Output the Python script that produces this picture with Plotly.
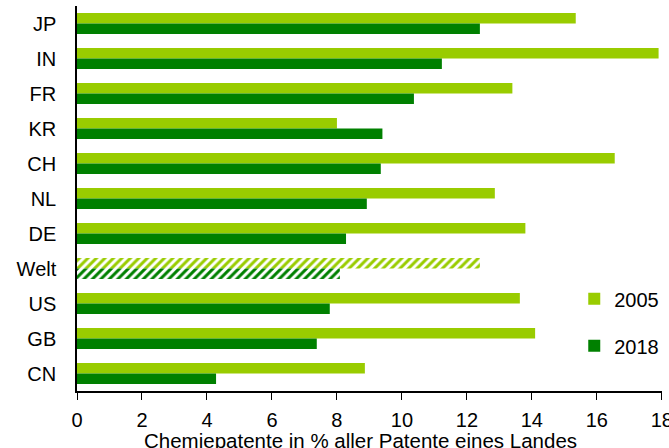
import plotly.graph_objects as go

countries = ["JP", "IN", "FR", "KR", "CH", "NL", "DE", "Welt", "US", "GB", "CN"]
v2005 = [15.35, 17.9, 13.4, 8.0, 16.55, 12.86, 13.8, 12.4, 13.63, 14.1, 8.86]
v2018 = [12.4, 11.23, 10.37, 9.4, 9.35, 8.92, 8.28, 8.09, 7.78, 7.38, 4.28]
xticks = [0, 2, 4, 6, 8, 10, 12, 14, 16, 18]

LIGHT = "#99CC00"
DARK = "#008000"

shapes = ["/" if c == "Welt" else "" for c in countries]

fig = go.Figure()
fig.add_trace(go.Bar(
    y=countries, x=v2005, orientation="h", name="2005",
    marker=dict(color=LIGHT, line=dict(width=0),
                pattern=dict(shape=shapes, fgcolor=LIGHT, bgcolor="white",
                             size=6, solidity=0.5, fillmode="replace")),
    legendgroup="a",
))
fig.add_trace(go.Bar(
    y=countries, x=v2018, orientation="h", name="2018",
    marker=dict(color=DARK, line=dict(width=0),
                pattern=dict(shape=shapes, fgcolor=DARK, bgcolor="white",
                             size=6, solidity=0.5, fillmode="replace")),
    legendgroup="b",
))

fig.update_layout(
    width=669, height=448,
    margin=dict(l=77, r=7, t=6, b=57, autoexpand=False),
    paper_bgcolor="white", plot_bgcolor="white",
    barmode="group", bargap=0.4, bargroupgap=0,
    font=dict(family="Liberation Sans, Arial, sans-serif", size=20, color="#000000"),
    showlegend=True,
    legend=dict(x=0.85, y=0.29, xanchor="left", yanchor="top",
                traceorder="grouped", tracegroupgap=18,
                font=dict(size=20), bgcolor="rgba(0,0,0,0)",
                itemwidth=30),
    xaxis=dict(range=[0, 18.005], tickvals=xticks, ticktext=[str(t) for t in xticks],
               showgrid=False, zeroline=False, showline=True, linecolor="black",
               linewidth=1.5, ticks="outside", ticklen=7, tickcolor="black",
               ticklabeloverflow="allow", ticklabelstandoff=3,
               tickfont=dict(size=20), automargin=False),
    yaxis=dict(autorange="reversed", showgrid=False, zeroline=False,
               showline=True, linecolor="black", linewidth=1.5, ticks="",
               ticklabelstandoff=15, tickfont=dict(size=20), automargin=False),
    annotations=[dict(text="Chemiepatente in % aller Patente eines Landes",
                      xref="paper", yref="paper", x=0.485, y=0, yshift=-49,
                      xanchor="center", yanchor="middle", showarrow=False,
                      font=dict(size=20.5))],
)

fig.write_html("out.html", config={"displayModeBar": False},
               post_script="document.body.style.margin='0px';document.body.style.overflow='hidden';")
